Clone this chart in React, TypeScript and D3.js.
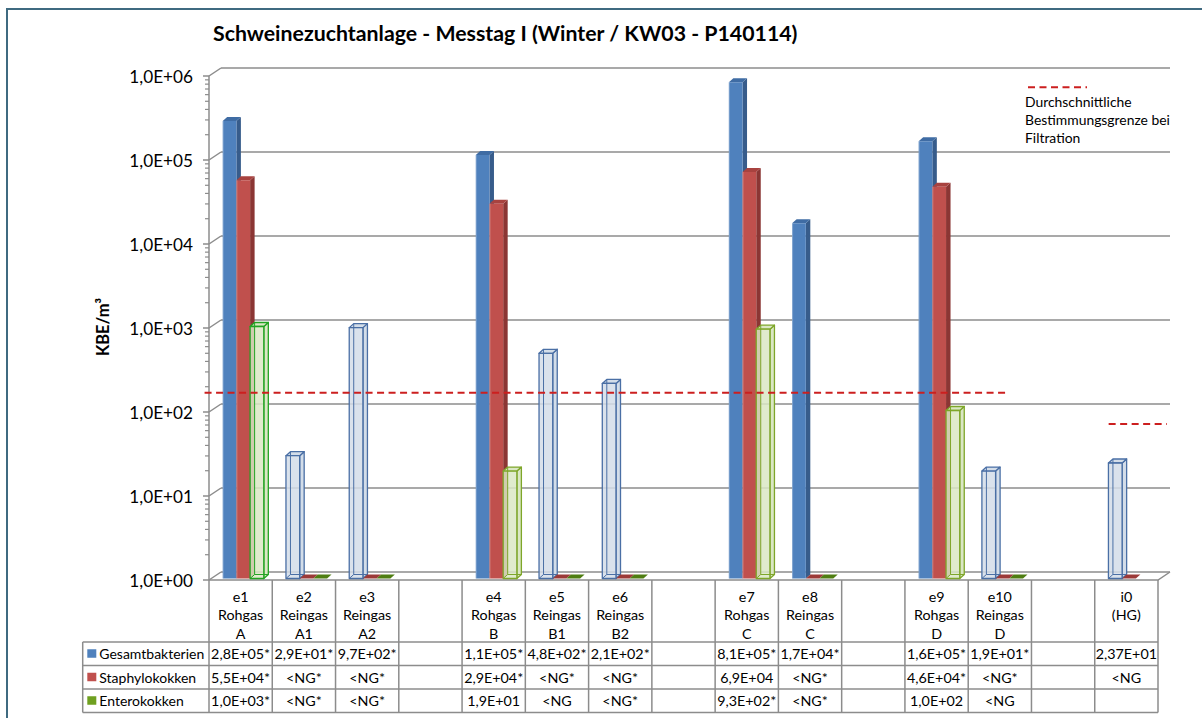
import React from "react";
import * as d3 from "d3";

// ---------- data ----------
const categories = ["e1", "e2", "e3", "", "e4", "e5", "e6", "", "e7", "e8", "", "e9", "e10", "", "i0"];
const headerLine2 = ["Rohgas", "Reingas", "Reingas", "", "Rohgas", "Reingas", "Reingas", "", "Rohgas", "Reingas", "", "Rohgas", "Reingas", "", "(HG)"];
const headerLine3 = ["A", "A1", "A2", "", "B", "B1", "B2", "", "C", "C", "", "D", "D", "", ""];
const seriesNames = ["Gesamtbakterien", "Staphylokokken", "Enterokokken"];
// values in KBE/m³ (1 = below detection limit, drawn flat on the floor; null = no bar)
const gesamtValues = [2.8e5, 29, 970, null, 1.1e5, 480, 210, null, 8.1e5, 1.7e4, null, 1.6e5, 19, null, 23.7];
const staphValues = [5.5e4, 1, 1, null, 2.9e4, 1, 1, null, 6.9e4, 1, null, 4.6e4, 1, null, 1];
const enteroValues = [1000, 1, 1, null, 19, 1, 1, null, 930, 1, null, 100, 1, null, null];
const gesamtLabels = ["2,8E+05*", "2,9E+01*", "9,7E+02*", "", "1,1E+05*", "4,8E+02*", "2,1E+02*", "", "8,1E+05*", "1,7E+04*", "", "1,6E+05*", "1,9E+01*", "", "2,37E+01"];
const staphLabels = ["5,5E+04*", "<NG*", "<NG*", "", "2,9E+04*", "<NG*", "<NG*", "", "6,9E+04", "<NG*", "", "4,6E+04*", "<NG*", "", "<NG"];
const enteroLabels = ["1,0E+03*", "<NG*", "<NG*", "", "1,9E+01", "<NG", "<NG*", "", "9,3E+02*", "<NG*", "", "1,0E+02", "<NG", "", ""];
// points drawn as transparent (wire) columns
const gesamtOutlined = [false, true, true, false, false, true, true, false, false, false, false, false, true, false, true];
const staphOutlined = [false, false, false, false, false, false, false, false, false, false, false, false, false, false, false];
const enteroOutlined = [true, false, false, false, true, false, false, false, true, false, false, true, false, false, false];
const yTickValues = [1, 10, 100, 1e3, 1e4, 1e5, 1e6];
const yTickLabels = ["1,0E+00", "1,0E+01", "1,0E+02", "1,0E+03", "1,0E+04", "1,0E+05", "1,0E+06"];
const limitValues = [170, 72];
const limitLegend = ["Durchschnittliche", "Bestimmungsgrenze bei", "Filtration"];
const title = "Schweinezuchtanlage - Messtag I (Winter / KW03 - P140114)";
const yAxisTitle = "KBE/m³";

// ---------- layout / style ----------
const W = 1202, H = 718;
const X0 = 209, X1 = 1158;
const YF = 580, YT = 76;
const WDX = 12, WDY = -8; // wall depth
const BDX = 4.5, BDY = -4; // bar depth
const BAR_LIFT = -1.5;
const FONT = "Lato, 'Open Sans', sans-serif";
const GRID = "#8c8c8c";
const seriesFront = ["#4F81BD", "#C0504D", "#9BBB59"];
const seriesSide = ["#375C8B", "#8B3634", "#6E8A3A"];
const seriesTop = ["#3F6CA4", "#A8423F", "#7FA040"];
const seriesFlat = ["#3D6298", "#9C3A38", "#4F7E12"];
const outlineFill = ["#D3DDE9", "#F0D0D0", "#DAE7C4"];
const outlineStroke = ["#4A6FA5", "#A04040", "#7EA62A"];
const outlineStrokeOverride: Record<string, string> = { e1: "#22A322" };
const legendKey = ["#4F81BD", "#C0504D", "#6FA020"];
const LIMIT_COLOR = "#CC1F1F";
const limitSpans: [number, number][] = [[-0.07, 12.64], [14.22, 15.14]];

const y = d3.scaleLog().domain([1, 1e6]).range([YF, YT]);
const x = d3.scaleBand<number>().domain(d3.range(categories.length)).range([X0, X1]).paddingInner(0).paddingOuter(0);
const bw = x.bandwidth();
const xs = d3.scaleBand<number>().domain([0, 1, 2]).range([bw * 0.2165, bw * 0.2165 + bw * 0.65]).padding(0);
const xc = d3.scaleLinear().domain([0, categories.length]).range([X0, X1]);

const allValues = [gesamtValues, staphValues, enteroValues];
const allOutlined = [gesamtOutlined, staphOutlined, enteroOutlined];
const allLabels = [gesamtLabels, staphLabels, enteroLabels];

const pts = (a: number[][]) => a.map((p) => p.join(",")).join(" ");

function Bar({ ci, si, v }: { ci: number; si: number; v: number }) {
  const xl = (x(ci) as number) + (xs(si) as number);
  const w = xs.bandwidth();
  const xr = xl + w;
  const yb = YF + BAR_LIFT;
  const yt = y(v) + BAR_LIFT;
  if (v <= 1) {
    return <polygon points={pts([[xl, yb], [xr, yb], [xr + BDX, yb + BDY], [xl + BDX, yb + BDY]])} fill={seriesFlat[si]} />;
  }
  const front = [[xl, yt], [xr, yt], [xr, yb], [xl, yb]];
  const side = [[xr, yt], [xr + BDX, yt + BDY], [xr + BDX, yb + BDY], [xr, yb]];
  const top = [[xl, yt], [xl + BDX, yt + BDY], [xr + BDX, yt + BDY], [xr, yt]];
  if (allOutlined[si][ci]) {
    const st = outlineStrokeOverride[categories[ci]] && si === 2 ? outlineStrokeOverride[categories[ci]] : outlineStroke[si];
    return (
      <g stroke={st} strokeWidth={1.3} strokeLinejoin="round">
        <polygon points={pts(side)} fill={outlineFill[si]} />
        <polygon points={pts(top)} fill={outlineFill[si]} />
        <polygon points={pts(front)} fill={outlineFill[si]} fillOpacity={0.85} />
        <line x1={xl + BDX} y1={yt + BDY} x2={xl + BDX} y2={yb + BDY} strokeWidth={1} />
        <polyline points={pts([[xl, yb], [xl + BDX, yb + BDY], [xr + BDX, yb + BDY]])} fill="none" strokeWidth={1} />
      </g>
    );
  }
  return (
    <g>
      <polygon points={pts(side)} fill={seriesSide[si]} />
      <polygon points={pts(top)} fill={seriesTop[si]} />
      <polygon points={pts(front)} fill={seriesFront[si]} />
      <line x1={xl + 0.5} y1={yt} x2={xl + 0.5} y2={yb} stroke="#ffffff" strokeOpacity={0.25} />
    </g>
  );
}

export default function App() {
  const minor: number[] = [];
  for (let d = 0; d < 6; d++) for (let m = 2; m <= 9; m++) minor.push(m * Math.pow(10, d));
  const rowY = [642, 665.5, 689, 712.5];
  const legendLeft = 82.7;
  return (
    <svg width={W} height={H} style={{ position: "absolute", left: 0, top: 0, background: "#fff" }} fontFamily={FONT}>
      <rect x={0} y={0} width={W} height={H} fill="#fff" />
      <rect x={7} y={9} width={1200} height={720} fill="none" stroke="#3F6A80" strokeWidth={2} />
      <text x={213} y={33} dominantBaseline="central" fontSize={21.3} fontWeight="bold" fill="#000">{title}</text>

      {/* back wall gridlines and left wall diagonals */}
      <g stroke={GRID} strokeWidth={1.5} fill="none">
        {yTickValues.map((v, i) => (
          <g key={i}>
            <line x1={X0 + WDX} y1={y(v) + WDY} x2={X1 + WDX} y2={y(v) + WDY} />
            <line x1={X0} y1={y(v)} x2={X0 + WDX} y2={y(v) + WDY} />
          </g>
        ))}
        {/* floor */}
        <polyline points={pts([[X0, YF], [X1, YF], [X1 + WDX, YF + WDY]])} />
        {/* value axis */}
        <line x1={X0} y1={YT} x2={X0} y2={YF} />
        {yTickValues.map((v, i) => <line key={"M" + i} x1={X0 - 6} y1={y(v)} x2={X0} y2={y(v)} />)}
        {minor.map((v, i) => <line key={"m" + i} x1={X0 - 4} y1={y(v)} x2={X0} y2={y(v)} strokeWidth={1.2} />)}
      </g>

      {yTickValues.map((v, i) => (
        <text key={i} x={193} y={y(v)} textAnchor="end" dominantBaseline="central" fontSize={17.2} fill="#000">{yTickLabels[i]}</text>
      ))}
      <text transform={`translate(103,327) rotate(-90)`} textAnchor="middle" dominantBaseline="central" fontSize={16.5} fontWeight="bold">{yAxisTitle}</text>

      {/* bars */}
      {categories.map((c, ci) => (
        <g key={ci}>
          {allValues.map((vals, si) => (vals[ci] == null ? null : <Bar key={si} ci={ci} si={si} v={vals[ci] as number} />))}
        </g>
      ))}

      {/* detection limit lines */}
      {limitValues.map((v, i) => (
        <line key={i} x1={xc(limitSpans[i][0])} x2={xc(limitSpans[i][1])} y1={y(v)} y2={y(v)} stroke={LIMIT_COLOR} strokeWidth={2} strokeDasharray="7 4.5" />
      ))}
      <line x1={1028} x2={1087} y1={87.3} y2={87.3} stroke={LIMIT_COLOR} strokeWidth={2} strokeDasharray="7 4.5" />
      {limitLegend.map((t, i) => (
        <text key={i} x={1025} y={101.7 + i * 18} dominantBaseline="central" fontSize={13.9} fill="#000">{t}</text>
      ))}

      {/* data table */}
      <g stroke={GRID} strokeWidth={1.5} fill="none">
        {d3.range(categories.length + 1).map((i) => (
          <line key={i} x1={xc(i)} x2={xc(i)} y1={YF} y2={rowY[3]} />
        ))}
        <line x1={legendLeft} x2={legendLeft} y1={rowY[0]} y2={rowY[3]} />
        {rowY.map((ry, i) => <line key={"h" + i} x1={legendLeft} x2={X1} y1={ry} y2={ry} />)}
      </g>
      {categories.map((c, ci) => {
        const cx = (x(ci) as number) + bw / 2;
        return (
          <g key={ci} textAnchor="middle" fontSize={14.3} fill="#000">
            <text x={cx} y={596} dominantBaseline="central">{c}</text>
            <text x={cx} y={614.5} dominantBaseline="central">{headerLine2[ci]}</text>
            <text x={cx} y={633} dominantBaseline="central">{headerLine3[ci]}</text>
            {allLabels.map((lab, si) => (
              <text key={si} x={cx} y={(rowY[si] + rowY[si + 1]) / 2} dominantBaseline="central">{lab[ci]}</text>
            ))}
          </g>
        );
      })}
      {seriesNames.map((s, si) => {
        const cy = (rowY[si] + rowY[si + 1]) / 2;
        return (
          <g key={si}>
            <rect x={87.3} y={cy - 4.5} width={9} height={8.5} fill={legendKey[si]} />
            <text x={99.3} y={cy} dominantBaseline="central" fontSize={14} fill="#000">{s}</text>
          </g>
        );
      })}
    </svg>
  );
}
